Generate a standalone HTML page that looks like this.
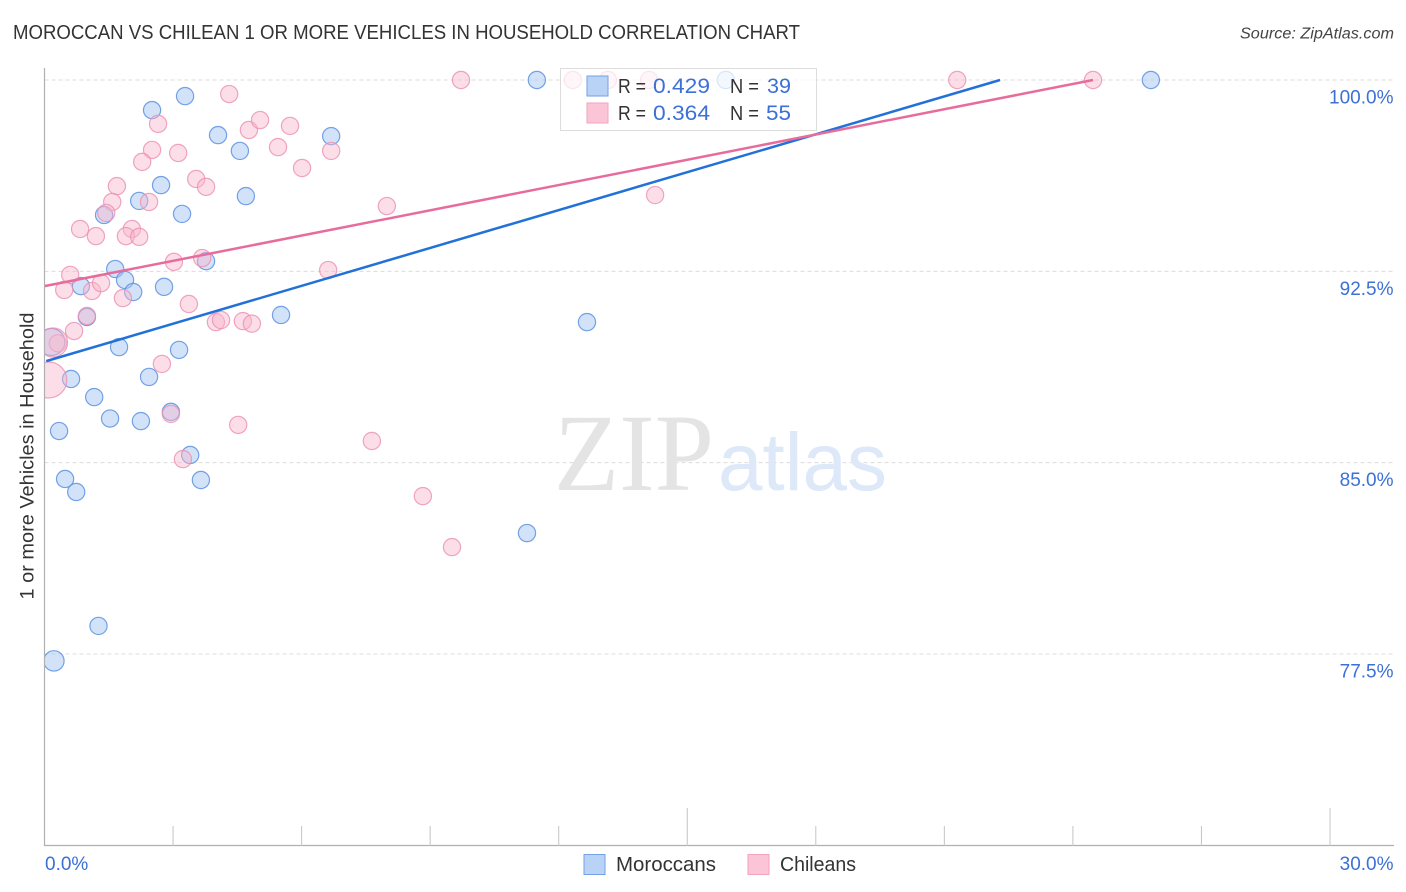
<!DOCTYPE html>
<html lang="en">
<head>
<meta charset="utf-8">
<title>Moroccan vs Chilean 1 or more Vehicles in Household Correlation Chart</title>
<style>
html,body{margin:0;padding:0;background:#fff;}
body{width:1406px;height:892px;overflow:hidden;}
svg{display:block;font-family:"Liberation Sans",sans-serif;}
</style>
</head>
<body>
<svg id="chart" xmlns="http://www.w3.org/2000/svg" width="1406" height="892" viewBox="0 0 1406 892">
  <defs>
    <clipPath id="plot-clip"><rect x="44.5" y="60" width="1350" height="786"></rect></clipPath>
  </defs>
  <rect x="0" y="0" width="1406" height="892" fill="#ffffff"></rect>
  <text x="13" y="39" font-size="20" fill="#333333" textLength="787" lengthAdjust="spacingAndGlyphs">MOROCCAN VS CHILEAN 1 OR MORE VEHICLES IN HOUSEHOLD CORRELATION CHART</text>
  <text x="1394" y="38.5" font-size="15.5" font-style="italic" fill="#444444" text-anchor="end" textLength="154" lengthAdjust="spacingAndGlyphs">Source: ZipAtlas.com</text>
  <g id="grid"></g>
  <g>
    <text x="554" y="490" font-family="'Liberation Serif',serif" font-size="110" fill="#e4e4e4" textLength="160" lengthAdjust="spacingAndGlyphs">ZIP</text>
    <text x="718" y="490" font-size="82" fill="#dde8f8" textLength="169" lengthAdjust="spacingAndGlyphs">atlas</text>
  </g>
  <g id="points" clip-path="url(#plot-clip)"></g>
  <g id="trends"></g>
  <g id="axes"></g>
  <text transform="translate(33.5,456) rotate(-90)" font-size="19.5" fill="#333333" text-anchor="middle" textLength="287" lengthAdjust="spacingAndGlyphs">1 or more Vehicles in Household</text>

  <g>
    <rect x="560.5" y="68.5" width="256" height="62" fill="#ffffff" fill-opacity="0.72" stroke="#dddddd" stroke-width="1"></rect>
    <rect x="587" y="76" width="21" height="20" fill="#b9d3f6" stroke="#74a2e6" stroke-width="1"></rect>
    <rect x="587" y="103" width="21" height="20" fill="#fcc5d7" stroke="#f2a3bf" stroke-width="1"></rect>
    <g font-size="20" fill="#333333">
      <text x="618" y="93" textLength="28" lengthAdjust="spacingAndGlyphs">R =</text>
      <text x="730" y="93" textLength="29" lengthAdjust="spacingAndGlyphs">N =</text>
      <text x="618" y="120" textLength="28" lengthAdjust="spacingAndGlyphs">R =</text>
      <text x="730" y="120" textLength="29" lengthAdjust="spacingAndGlyphs">N =</text>
    </g>
    <g font-size="21" fill="#3b70d6">
      <text x="653" y="93" textLength="57" lengthAdjust="spacingAndGlyphs">0.429</text>
      <text x="767" y="93" textLength="24" lengthAdjust="spacingAndGlyphs">39</text>
      <text x="653" y="120" textLength="57" lengthAdjust="spacingAndGlyphs">0.364</text>
      <text x="766" y="120" textLength="25" lengthAdjust="spacingAndGlyphs">55</text>
    </g>
  </g>

  <g>
    <g>
      <rect x="584" y="854.5" width="21" height="20" fill="#b9d3f6" stroke="#74a2e6" stroke-width="1"></rect>
      <text x="616" y="871" font-size="20" fill="#333333" textLength="100" lengthAdjust="spacingAndGlyphs">Moroccans</text>
    </g>
    <g>
      <rect x="748" y="854.5" width="21" height="20" fill="#fcc5d7" stroke="#f2a3bf" stroke-width="1"></rect>
      <text x="780" y="871" font-size="20" fill="#333333" textLength="76" lengthAdjust="spacingAndGlyphs">Chileans</text>
    </g>
  </g>
</svg>

<script>
const moroccanX = [2.51,3.28,4.05,4.56,6.69,2.72,2.21,1.39,4.70,3.21,1.65,1.88,2.07,0.85,2.79,3.77,0.99,5.52,12.66,1.74,3.14,0.62,2.44,1.16,1.53,2.25,2.95,0.34,3.40,3.65,0.48,0.74,1.26,0.22,0.16,11.26,11.49,15.90,25.82];
const moroccanY = [98.82,99.37,97.84,97.22,97.80,95.88,95.26,94.71,95.45,94.75,92.59,92.16,91.69,91.92,91.89,92.90,90.71,90.79,90.51,89.53,89.42,88.28,88.36,87.57,86.73,86.63,86.99,86.24,85.30,84.32,84.36,83.85,78.60,77.23,89.73,82.24,100,100,100];
const moroccanWeight = [1,1,1,1,1,1,1,1,1,1,1,1,1,1,1,1,1,1,1,1,1,1,1,1,1,1,1,1,1,1,1,1,1,1.4,2.46,1,1,1,1];

const chileanX = [4.31,2.65,4.77,5.03,5.73,5.45,3.12,2.51,2.28,6.01,6.69,3.54,3.77,1.69,1.58,2.44,1.44,0.83,1.20,2.04,1.90,2.21,3.02,3.68,6.62,0.60,0.46,1.11,1.32,1.83,3.37,4.00,4.12,4.63,4.84,0.99,0.69,0.31,0.20,0.10,2.74,2.95,4.52,7.64,3.23,8.83,9.51,7.99,14.25,9.72,12.33,13.15,14.11,21.30,24.47];
const chileanY = [99.45,98.28,98.04,98.43,98.20,97.37,97.14,97.26,96.79,96.55,97.22,96.12,95.81,95.84,95.22,95.22,94.79,94.16,93.88,94.16,93.88,93.85,92.87,93.02,92.55,92.36,91.77,91.73,92.04,91.45,91.22,90.51,90.59,90.55,90.45,90.75,90.16,89.68,89.71,88.24,88.87,86.91,86.48,85.85,85.14,83.69,81.69,95.06,95.49,100,100,100,100,100,100];
const chileanWeight = [1,1,1,1,1,1,1,1,1,1,1,1,1,1,1,1,1,1,1,1,1,1,1,1,1,1,1,1,1,1,1,1,1,1,1,1,1,1,2.84,4.38,1,1,1,1,1,1,1,1,1,1,1,1,1,1,1];

const moroccanTrendX = [0.04,22.3];
const moroccanTrendY = [88.98,100];
const chileanTrendX = [0,24.47];
const chileanTrendY = [91.92,100];

const yGridValues = [100,92.5,85,77.5];
const yTickLabels = ["100.0%","92.5%","85.0%","77.5%"];
const xTickValues = [0,3,6,9,12,15,18,21,24,27,30];
const xMajorTicks = [0,15,30];
const xEndLabels = ["0.0%","30.0%"];
const xEndValues = [0,30];

const NS = "http://www.w3.org/2000/svg";
const xPos = v => 44.5 + v * 42.85;
const yPos = v => 80 + (100 - v) * 25.51;
const baseRadius = 8.6;

function make(tag, attrs, parent) {
  const el = document.createElementNS(NS, tag);
  for (const k in attrs) el.setAttribute(k, attrs[k]);
  parent.appendChild(el);
  return el;
}

const gridGroup = document.getElementById("grid");
const axesGroup = document.getElementById("axes");
const pointsGroup = document.getElementById("points");
const trendsGroup = document.getElementById("trends");

yGridValues.forEach((v, i) => {
  const line = make("line", {x1: 44.5, x2: 1394, y1: yPos(v), y2: yPos(v), stroke: "#dcdcdc", "stroke-width": 1, "stroke-dasharray": "4 3"}, gridGroup);
  
  
  const label = make("text", {x: 1393.5, y: yPos(v) + 23.5, "font-size": 19, fill: "#3b70d6", "text-anchor": "end"}, axesGroup);
  
  
  label.textContent = yTickLabels[i];
});

const yAxis = make("line", {x1: 44.5, x2: 44.5, y1: 68, y2: 846, stroke: "#b0b0b0", "stroke-width": 1.2}, axesGroup);


const xAxis = make("line", {x1: 44, x2: 1394, y1: 845.5, y2: 845.5, stroke: "#b0b0b0", "stroke-width": 1.2}, axesGroup);



xTickValues.forEach(v => {
  if (v === 0) return;
  const top = xMajorTicks.includes(v) ? 808 : 826;
  const tick = make("line", {x1: xPos(v), x2: xPos(v), y1: top, y2: 846, stroke: "#c4c4c4", "stroke-width": 1}, axesGroup);
  
  
});

xEndValues.forEach((v, i) => {
  const label = make("text", {x: i === 0 ? xPos(v) + 0.5 : 1393.5, y: 870, "font-size": 19, fill: "#3b70d6", "text-anchor": i === 0 ? "start" : "end"}, axesGroup);
  
  
  label.textContent = xEndLabels[i];
});

moroccanX.forEach((x, i) => {
  const c = make("circle", {cx: xPos(x), cy: yPos(moroccanY[i]), r: baseRadius * Math.sqrt(moroccanWeight[i]), fill: "#a6c8f3", "fill-opacity": 0.5, stroke: "#5d92e2", "stroke-opacity": 0.85, "stroke-width": 1.2}, pointsGroup);
  
  
});

chileanX.forEach((x, i) => {
  const c = make("circle", {cx: xPos(x), cy: yPos(chileanY[i]), r: baseRadius * Math.sqrt(chileanWeight[i]), fill: "#f9b6cc", "fill-opacity": 0.45, stroke: "#ec8fb0", "stroke-opacity": 0.8, "stroke-width": 1.2}, pointsGroup);
  
  
});

const blueTrend = make("line", {x1: xPos(moroccanTrendX[0]), y1: yPos(moroccanTrendY[0]), x2: xPos(moroccanTrendX[1]), y2: yPos(moroccanTrendY[1]), stroke: "#2271d8", "stroke-width": 2.5}, trendsGroup);


const pinkTrend = make("line", {x1: xPos(chileanTrendX[0]), y1: yPos(chileanTrendY[0]), x2: xPos(chileanTrendX[1]), y2: yPos(chileanTrendY[1]), stroke: "#e86c9b", "stroke-width": 2.5}, trendsGroup);


</script>
</body>
</html>
